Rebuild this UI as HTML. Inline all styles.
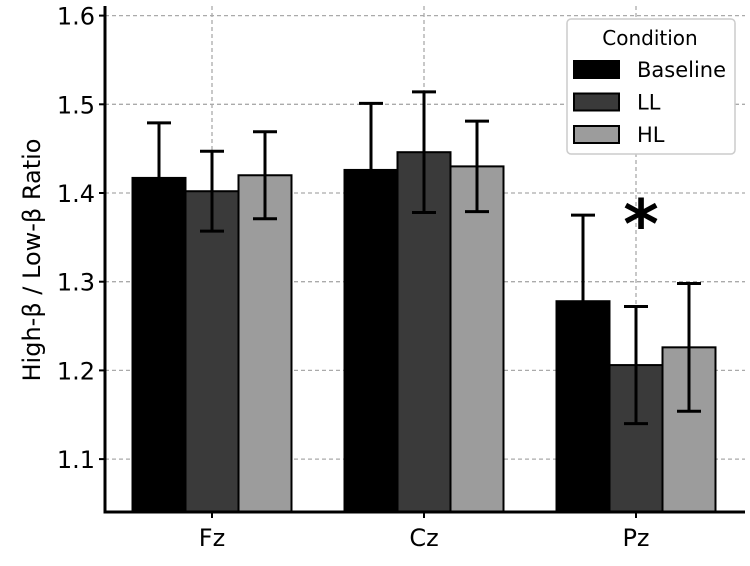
<!DOCTYPE html>
<html><head><meta charset="utf-8"><style>
body{margin:0;background:#fff}
svg{display:block;font-family:"DejaVu Sans","Liberation Sans",sans-serif}
</style></head><body>
<svg id="c" width="750" height="566"></svg>
<script>
const categories=["Fz","Cz","Pz"];
const seriesNames=["Baseline","LL","HL"];
const seriesColors=["#000000","#3a3a3a","#9c9c9c"];
const baselineVals=[1.417,1.426,1.278];
const llVals=[1.402,1.446,1.206];
const hlVals=[1.420,1.430,1.226];
const baselineErr=[0.062,0.075,0.097];
const llErr=[0.045,0.068,0.066];
const hlErr=[0.049,0.051,0.072];
const yTicks=[1.1,1.2,1.3,1.4,1.5,1.6];
const vals=[baselineVals,llVals,hlVals], errs=[baselineErr,llErr,hlErr];
const NS="http://www.w3.org/2000/svg", svg=document.getElementById('c');
const X0=105,X1=745,YT=6,YB=512;
function y(v){return 193+(1.4-v)*887;}
function xc(i){return 212+i*212;}
const bw=53;
function el(t,a,p){const e=document.createElementNS(NS,t);for(const k in a)e.setAttribute(k,a[k]);(p||svg).appendChild(e);return e;}
yTicks.forEach(t=>{const g=el('line',{x1:X0,x2:X1,y1:y(t),y2:y(t),stroke:'#aaa','stroke-width':1.3,'stroke-dasharray':'4,3'});

});
categories.forEach((c,i)=>{const g=el('line',{x1:xc(i),x2:xc(i),y1:YT,y2:YB,stroke:'#aaa','stroke-width':1.3,'stroke-dasharray':'4,3'});

});
for(let s=0;s<3;s++){categories.forEach((c,i)=>{
const x=xc(i)+(s-1)*bw-bw/2, top=y(vals[s][i]);
const r=el('rect',{x:x,y:top,width:bw,height:YB-top,fill:seriesColors[s],stroke:'#000','stroke-width':2});


});}
for(let s=0;s<3;s++){categories.forEach((c,i)=>{
const cx=xc(i)+(s-1)*bw, hi=y(vals[s][i]+errs[s][i]), lo=y(vals[s][i]-errs[s][i]);
const g=el('g',{stroke:'#000','stroke-width':3});


el('line',{x1:cx,x2:cx,y1:hi,y2:lo},g);
el('line',{x1:cx-12,x2:cx+12,y1:hi,y2:hi},g);
el('line',{x1:cx-12,x2:cx+12,y1:lo,y2:lo},g);
});}
let a=el('line',{x1:X0,x2:X0,y1:YT,y2:YB+1.5,stroke:'#000','stroke-width':3});

a=el('line',{x1:X0-1.5,x2:X1,y1:YB,y2:YB,stroke:'#000','stroke-width':3});

yTicks.forEach(t=>{el('line',{x1:X0-6,x2:X0,y1:y(t),y2:y(t),stroke:'#000','stroke-width':2});
const tx=el('text',{x:X0-10,y:y(t)+9,'text-anchor':'end','font-size':24,fill:'#000'});tx.textContent=t.toFixed(1);

});
categories.forEach((c,i)=>{el('line',{x1:xc(i),x2:xc(i),y1:YB,y2:YB+6,stroke:'#000','stroke-width':2});
const tx=el('text',{x:xc(i),y:YB+34,'text-anchor':'middle','font-size':24,fill:'#000'});tx.textContent=c;

});
let yl=el('text',{x:40,y:260,'text-anchor':'middle','font-size':24,fill:'#000',transform:'rotate(-90 40 260)'});
yl.textContent='High-β / Low-β Ratio';

let st=el('text',{x:641,y:248,'text-anchor':'middle','font-size':68,'font-weight':'bold',fill:'#000'});
st.textContent='*';

const lg=el('g',{});

el('rect',{x:567,y:19,width:168,height:135,rx:4,fill:'#fff',stroke:'#ccc','stroke-width':1.5},lg);
let lt=el('text',{x:650,y:45,'text-anchor':'middle','font-size':20,fill:'#000'},lg);lt.textContent='Condition';
seriesNames.forEach((n,s)=>{const yy=61+s*32.5;
const sw=el('rect',{x:574,y:yy,width:45,height:17,fill:seriesColors[s],stroke:'#000','stroke-width':2},lg);


const t=el('text',{x:637,y:yy+16,'font-size':21,fill:'#000'},lg);t.textContent=n;

});
</script>
</body></html>
